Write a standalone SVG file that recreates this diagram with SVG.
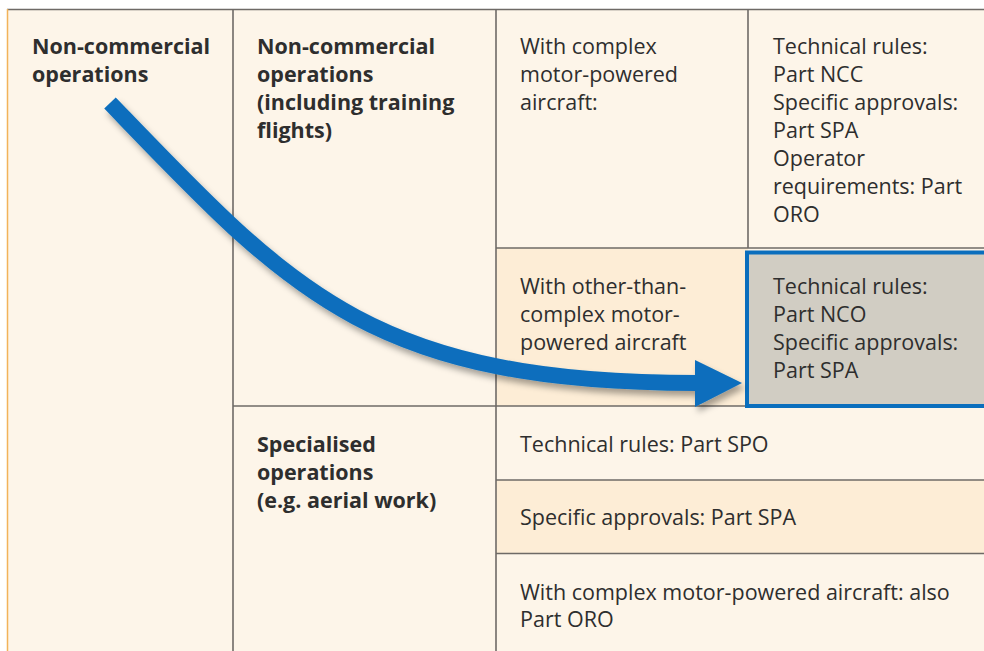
<svg xmlns="http://www.w3.org/2000/svg" width="984" height="651" viewBox="0 0 984 651">
<defs>
<style>
.t{font-family:"Open Sans","Noto Sans","Liberation Sans",sans-serif;font-size:21.5px;fill:#2e2e2e}
.b{font-weight:bold}
.ln{stroke:#6e6a66;stroke-width:1.6;fill:none}
</style>
<filter id="sh" x="-10%" y="-10%" width="130%" height="130%">
<feDropShadow dx="3" dy="5" stdDeviation="3" flood-color="#000" flood-opacity="0.35"/>
</filter>
</defs>
<rect x="0" y="0" width="984" height="651" fill="#ffffff"/>
<rect x="7" y="9" width="977" height="642" fill="#fdf5e9"/>
<g id="cell-other"><rect x="496" y="248" width="252" height="158" fill="#fdedd6"/></g>
<g id="row-spa"><rect x="496" y="480" width="488" height="73" fill="#fdedd6"/></g>
<g id="grid">
<line class="ln" x1="7" y1="9.5" x2="984" y2="9.5"/>
<line x1="7.5" y1="9" x2="7.5" y2="651" stroke="#f2b35a" stroke-width="1.5"/>
<line class="ln" x1="233" y1="9" x2="233" y2="651"/>
<line class="ln" x1="496" y1="9" x2="496" y2="651"/>
<line class="ln" x1="748" y1="9" x2="748" y2="248"/>
<line class="ln" x1="496" y1="248" x2="984" y2="248"/>
<line class="ln" x1="233" y1="406" x2="984" y2="406"/>
<line class="ln" x1="496" y1="480" x2="984" y2="480"/>
<line class="ln" x1="496" y1="553.5" x2="984" y2="553.5"/>
</g>
<g id="nco-cell">
<rect x="747" y="252.5" width="240" height="153.5" fill="#d1cdc3" stroke="#0a6ebd" stroke-width="4"/>
<text class="t" x="773" y="294">Technical rules:</text>
<text class="t" x="773" y="322">Part NCO</text>
<text class="t" x="773" y="349.5">Specific approvals:</text>
<text class="t" x="773" y="377.5">Part SPA</text>
</g>
<g id="n-noncommercial">
<text class="t b" x="32" y="54">Non-commercial</text>
<text class="t b" x="32" y="82">operations</text>
</g>
<g id="n-noncommercial-training">
<text class="t b" x="257" y="54">Non-commercial</text>
<text class="t b" x="257" y="82">operations</text>
<text class="t b" x="257" y="110">(including training</text>
<text class="t b" x="257" y="138">flights)</text>
</g>
<g id="n-complex">
<text class="t" x="520" y="54">With complex</text>
<text class="t" x="520" y="82">motor-powered</text>
<text class="t" x="520" y="110">aircraft:</text>
</g>
<g id="n-ncc">
<text class="t" x="773" y="54">Technical rules:</text>
<text class="t" x="773" y="82">Part NCC</text>
<text class="t" x="773" y="110">Specific approvals:</text>
<text class="t" x="773" y="138">Part SPA</text>
<text class="t" x="773" y="166">Operator</text>
<text class="t" x="773" y="194">requirements: Part</text>
<text class="t" x="773" y="222">ORO</text>
</g>
<g id="n-other">
<text class="t" x="520" y="294">With other-than-</text>
<text class="t" x="520" y="322">complex motor-</text>
<text class="t" x="520" y="349.5">powered aircraft</text>
</g>
<g id="n-specialised">
<text class="t b" x="257" y="452">Specialised</text>
<text class="t b" x="257" y="480">operations</text>
<text class="t b" x="257" y="508">(e.g. aerial work)</text>
</g>
<g id="n-spo"><text class="t" x="520" y="452">Technical rules: Part SPO</text></g>
<g id="n-spa"><text class="t" x="520" y="525">Specific approvals: Part SPA</text></g>
<g id="n-oro">
<text class="t" x="520" y="600">With complex motor-powered aircraft: also</text>
<text class="t" x="520" y="627">Part ORO</text>
</g>
<g id="connectors" filter="url(#sh)">
<path d="M110,103 C290,290 370,383 698,383" fill="none" stroke="#0a6ebd" stroke-width="16"/>
<polygon points="695,360 742,383 695,407" fill="#0a6ebd"/>
</g>
</svg>
